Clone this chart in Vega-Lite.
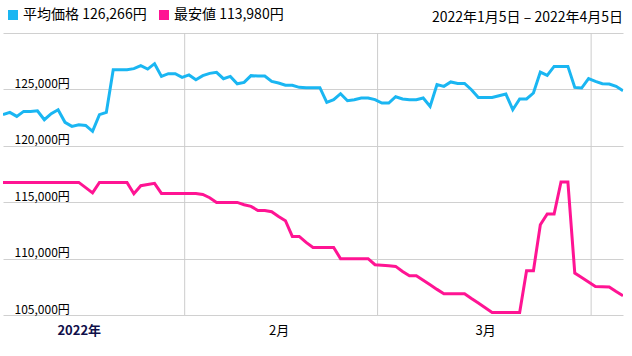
{
  "$schema": "https://vega.github.io/schema/vega-lite/v6.json",
  "width": 620,
  "height": 282,
  "autosize": "none",
  "padding": {"left": 3, "top": 33, "right": 9, "bottom": 41},
  "background": "white",
  "config": {"font": "Noto Sans CJK JP", "view": {"stroke": null}},
  "title": {"text": "2022年1月5日 – 2022年4月5日", "anchor": "end", "fontSize": 14, "fontWeight": "normal", "color": "#000000", "baseline": "alphabetic", "offset": 0, "dy": 28, "frame": "group"},
  "datasets": {
    "months": [
      {"date": "2022-01-31T09:00:00Z"},
      {"date": "2022-02-28T09:00:00Z"},
      {"date": "2022-03-31T09:00:00Z"}
    ],
    "prices": [
      {"date": "2022-01-05", "平均価格": 122760, "最安値": 116755},
      {"date": "2022-01-06", "平均価格": 122960, "最安値": 116755},
      {"date": "2022-01-07", "平均価格": 122610, "最安値": 116755},
      {"date": "2022-01-08", "平均価格": 123050, "最安値": 116755},
      {"date": "2022-01-09", "平均価格": 123050, "最安値": 116755},
      {"date": "2022-01-10", "平均価格": 123110, "最安値": 116755},
      {"date": "2022-01-11", "平均価格": 122310, "最安値": 116755},
      {"date": "2022-01-12", "平均価格": 122850, "最安値": 116755},
      {"date": "2022-01-13", "平均価格": 123200, "最安値": 116755},
      {"date": "2022-01-14", "平均価格": 122080, "最安値": 116755},
      {"date": "2022-01-15", "平均価格": 121720, "最安値": 116755},
      {"date": "2022-01-16", "平均価格": 121870, "最安値": 116755},
      {"date": "2022-01-17", "平均価格": 121810, "最安値": 116290},
      {"date": "2022-01-18", "平均価格": 121280, "最安値": 115830},
      {"date": "2022-01-19", "平均価格": 122760, "最安値": 116755},
      {"date": "2022-01-20", "平均価格": 122960, "最安値": 116755},
      {"date": "2022-01-21", "平均価格": 126750, "最安値": 116755},
      {"date": "2022-01-22", "平均価格": 126750, "最安値": 116755},
      {"date": "2022-01-23", "平均価格": 126750, "最安値": 116755},
      {"date": "2022-01-24", "平均価格": 126840, "最安値": 115750},
      {"date": "2022-01-25", "平均価格": 127100, "最安値": 116460},
      {"date": "2022-01-26", "平均価格": 126800, "最安値": 116560},
      {"date": "2022-01-27", "平均価格": 127280, "最安値": 116670},
      {"date": "2022-01-28", "平均価格": 126150, "最安値": 115780},
      {"date": "2022-01-29", "平均価格": 126390, "最安値": 115780},
      {"date": "2022-01-30", "平均価格": 126390, "最安値": 115780},
      {"date": "2022-01-31", "平均価格": 126060, "最安値": 115780},
      {"date": "2022-02-01", "平均価格": 126280, "最安値": 115780},
      {"date": "2022-02-02", "平均価格": 125860, "最安値": 115780},
      {"date": "2022-02-03", "平均価格": 126220, "最安値": 115690},
      {"date": "2022-02-04", "平均価格": 126420, "最安値": 115400},
      {"date": "2022-02-05", "平均価格": 126510, "最安値": 114980},
      {"date": "2022-02-06", "平均価格": 125950, "最安値": 114980},
      {"date": "2022-02-07", "平均価格": 126150, "最安値": 114980},
      {"date": "2022-02-08", "平均価格": 125500, "最安値": 114980},
      {"date": "2022-02-09", "平均価格": 125620, "最安値": 114780},
      {"date": "2022-02-10", "平均価格": 126220, "最安値": 114630},
      {"date": "2022-02-11", "平均価格": 126190, "最安値": 114270},
      {"date": "2022-02-12", "平均価格": 126190, "最安値": 114270},
      {"date": "2022-02-13", "平均価格": 125710, "最安値": 114160},
      {"date": "2022-02-14", "平均価格": 125570, "最安値": 113740},
      {"date": "2022-02-15", "平均価格": 125370, "最安値": 113360},
      {"date": "2022-02-16", "平均価格": 125360, "最安値": 111970},
      {"date": "2022-02-17", "平均価格": 125180, "最安値": 111970},
      {"date": "2022-02-18", "平均価格": 125150, "最安値": 111440},
      {"date": "2022-02-19", "平均価格": 125150, "最安値": 110990},
      {"date": "2022-02-20", "平均価格": 125150, "最安値": 110990},
      {"date": "2022-02-21", "平均価格": 123850, "最安値": 110990},
      {"date": "2022-02-22", "平均価格": 124090, "最安値": 110990},
      {"date": "2022-02-23", "平均価格": 124620, "最安値": 109990},
      {"date": "2022-02-24", "平均価格": 124000, "最安値": 109990},
      {"date": "2022-02-25", "平均価格": 124090, "最安値": 109990},
      {"date": "2022-02-26", "平均価格": 124240, "最安値": 109990},
      {"date": "2022-02-27", "平均価格": 124240, "最安値": 109990},
      {"date": "2022-02-28", "平均価格": 124090, "最安値": 109460},
      {"date": "2022-03-01", "平均価格": 123790, "最安値": 109410},
      {"date": "2022-03-02", "平均価格": 123790, "最安値": 109360},
      {"date": "2022-03-03", "平均価格": 124350, "最安値": 109310},
      {"date": "2022-03-04", "平均価格": 124150, "最安値": 108860},
      {"date": "2022-03-05", "平均価格": 124090, "最安値": 108480},
      {"date": "2022-03-06", "平均価格": 124090, "最安値": 108480},
      {"date": "2022-03-07", "平均価格": 124240, "最安値": 108080},
      {"date": "2022-03-08", "平均価格": 123490, "最安値": 107680},
      {"date": "2022-03-09", "平均価格": 125420, "最安値": 107270},
      {"date": "2022-03-10", "平均価格": 125270, "最安値": 106890},
      {"date": "2022-03-11", "平均価格": 125660, "最安値": 106890},
      {"date": "2022-03-12", "平均価格": 125530, "最安値": 106890},
      {"date": "2022-03-13", "平均価格": 125530, "最安値": 106890},
      {"date": "2022-03-14", "平均価格": 124970, "最安値": 106455},
      {"date": "2022-03-15", "平均価格": 124290, "最安値": 106055},
      {"date": "2022-03-16", "平均価格": 124290, "最安値": 105650},
      {"date": "2022-03-17", "平均価格": 124290, "最安値": 105230},
      {"date": "2022-03-18", "平均価格": 124440, "最安値": 105230},
      {"date": "2022-03-19", "平均価格": 124590, "最安値": 105230},
      {"date": "2022-03-20", "平均価格": 123200, "最安値": 105230},
      {"date": "2022-03-21", "平均価格": 124150, "最安値": 105230},
      {"date": "2022-03-22", "平均価格": 124150, "最安値": 108930},
      {"date": "2022-03-23", "平均価格": 124680, "最安値": 108930},
      {"date": "2022-03-24", "平均価格": 126540, "最安値": 113005},
      {"date": "2022-03-25", "平均価格": 126240, "最安値": 113950},
      {"date": "2022-03-26", "平均価格": 127040, "最安値": 113950},
      {"date": "2022-03-27", "平均価格": 127040, "最安値": 116790},
      {"date": "2022-03-28", "平均価格": 127040, "最安値": 116790},
      {"date": "2022-03-29", "平均価格": 125180, "最安値": 108720},
      {"date": "2022-03-30", "平均価格": 125120, "最安値": 108325},
      {"date": "2022-03-31", "平均価格": 125950, "最安値": 107925},
      {"date": "2022-04-01", "平均価格": 125710, "最安値": 107535},
      {"date": "2022-04-02", "平均価格": 125510, "最安値": 107510},
      {"date": "2022-04-03", "平均価格": 125480, "最安値": 107480},
      {"date": "2022-04-04", "平均価格": 125270, "最安値": 107085},
      {"date": "2022-04-05", "平均価格": 124880, "最安値": 106710}
    ]
  },
  "layer": [
    {
      "data": {"name": "months"},
      "mark": {"type": "rule", "color": "#cccccc", "strokeWidth": 1},
      "encoding": {
        "x": {
          "field": "date", "type": "temporal",
          "scale": {"type": "utc", "domain": [{"year": 2022, "month": 1, "date": 5, "utc": true}, {"year": 2022, "month": 4, "date": 5, "utc": true}]},
          "axis": {
            "title": null, "grid": false, "domain": false, "ticks": false, "tickSize": 0, "labelPadding": 9,
            "values": [{"year": 2022, "month": 1, "date": 16, "utc": true}, {"year": 2022, "month": 2, "date": 14, "utc": true}, {"year": 2022, "month": 3, "date": 16, "utc": true}],
            "labelExpr": "utcmonth(datum.value) == 0 ? '2022年' : (utcmonth(datum.value) + 1) + '月'",
            "labelFontSize": 13, "labelColor": {"condition": {"test": "utcmonth(datum.value) == 0", "value": "#10104a"}, "value": "#000000"},
            "labelFontWeight": {"condition": {"test": "utcmonth(datum.value) == 0", "value": "bold"}, "value": "normal"},
            "labelFlush": false
          }
        }
      }
    },
    {
      "data": {"name": "prices"},
      "transform": [{"fold": ["平均価格", "最安値"], "as": ["series", "price"]}],
      "mark": {"type": "line", "strokeWidth": 3, "clip": true},
      "encoding": {
        "x": {
          "field": "date", "type": "temporal",
          "scale": {"type": "utc", "domain": [{"year": 2022, "month": 1, "date": 5, "utc": true}, {"year": 2022, "month": 4, "date": 5, "utc": true}]},
          "axis": {
            "title": null, "grid": false, "domain": false, "ticks": false, "tickSize": 0, "labelPadding": 9,
            "values": [{"year": 2022, "month": 1, "date": 16, "utc": true}, {"year": 2022, "month": 2, "date": 14, "utc": true}, {"year": 2022, "month": 3, "date": 16, "utc": true}],
            "labelExpr": "utcmonth(datum.value) == 0 ? '2022年' : (utcmonth(datum.value) + 1) + '月'",
            "labelFontSize": 13, "labelColor": {"condition": {"test": "utcmonth(datum.value) == 0", "value": "#10104a"}, "value": "#000000"},
            "labelFontWeight": {"condition": {"test": "utcmonth(datum.value) == 0", "value": "bold"}, "value": "normal"},
            "labelFlush": false
          }
        },
        "y": {
          "field": "price", "type": "quantitative",
          "scale": {"domain": [105000, 130000], "nice": false, "zero": false},
          "axis": {
            "title": null, "grid": true, "gridColor": "#d0d0d0", "domain": false, "ticks": false, "tickSize": 0,
            "values": [105000, 110000, 115000, 120000, 125000, 130000],
            "labelAlign": "left", "labelPadding": -11, "labelBaseline": "alphabetic", "labelOffset": -2,
            "labelFontSize": 12, "labelColor": "#000000",
            "labelExpr": "datum.value >= 130000 ? '' : format(datum.value, ',') + '円'"
          }
        },
        "color": {
          "field": "series", "type": "nominal",
          "scale": {"domain": ["平均価格", "最安値"], "range": ["#1ab6f2", "#ff1493"]},
          "legend": {
            "title": null, "orient": "none", "legendX": 3, "legendY": -25, "direction": "horizontal",
            "symbolType": "square", "symbolSize": 100, "symbolStrokeWidth": 0, "labelOffset": 3,
            "columnPadding": 10, "labelFontSize": 14, "labelColor": "#000000", "padding": 0,
            "labelExpr": "datum.label == '平均価格' ? '平均価格 126,266円' : '最安値 113,980円'",
            "encode": {"symbols": {"update": {"fill": {"scale": "color", "field": "value"}, "fillOpacity": {"value": 1}}}}
          }
        }
      }
    }
  ]
}
